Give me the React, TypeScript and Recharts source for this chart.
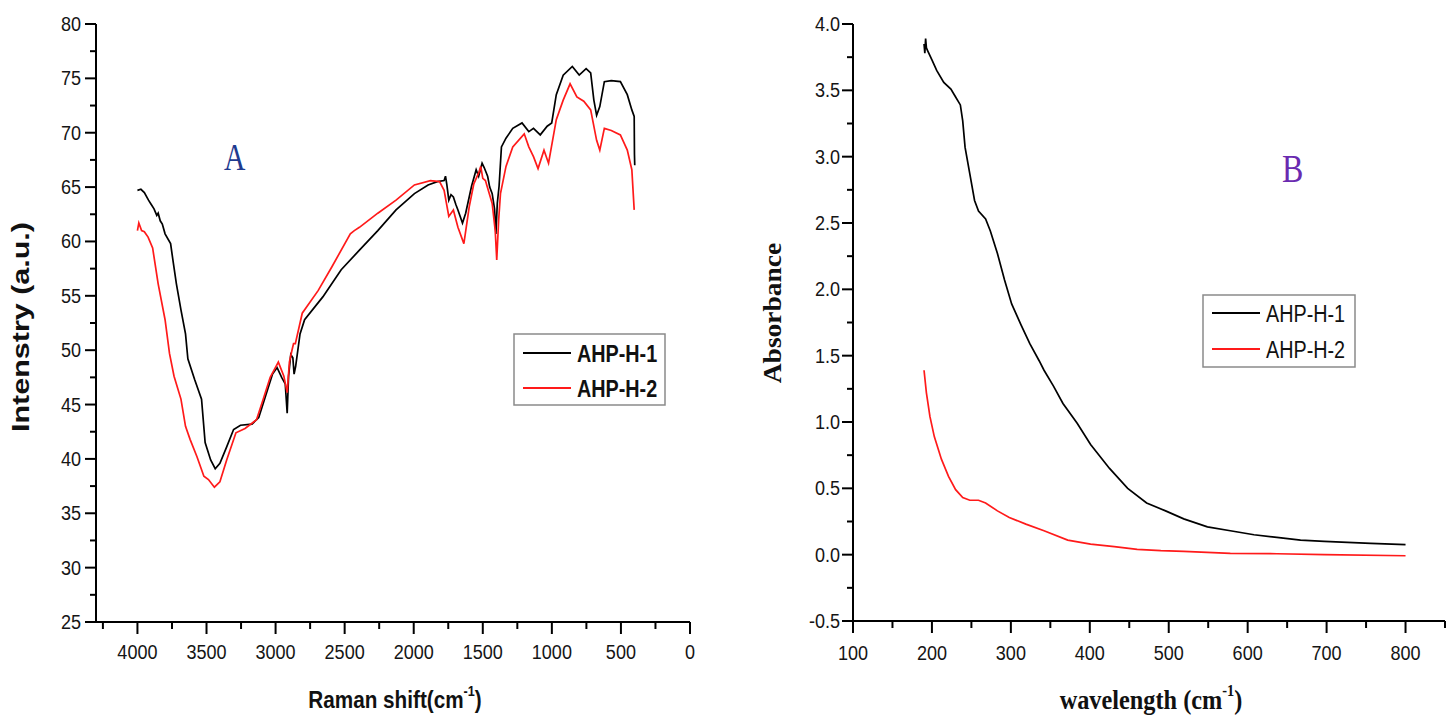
import React from 'react';
import { LineChart, Line, XAxis, YAxis } from 'recharts';

// ---------- Panel A data (Raman shift vs intensity) ----------
const ramanH1X = [4000, 3975, 3950, 3920, 3900, 3880, 3860, 3850, 3835, 3820, 3800, 3760, 3740, 3718, 3685, 3652, 3635, 3586, 3536, 3510, 3470, 3437, 3403, 3354, 3304, 3254, 3171, 3122, 3072, 3022, 2989, 2956, 2930, 2916, 2906, 2890, 2875, 2866, 2855, 2823, 2790, 2658, 2525, 2393, 2260, 2128, 1995, 1896, 1829, 1780, 1770, 1760, 1746, 1730, 1713, 1695, 1680, 1647, 1624, 1581, 1548, 1530, 1505, 1490, 1465, 1450, 1432, 1415, 1405, 1395, 1382, 1365, 1332, 1283, 1216, 1167, 1133, 1084, 1034, 1001, 968, 918, 852, 802, 752, 719, 696, 676, 653, 620, 570, 504, 454, 421, 404, 402, 400];
const ramanH1Y = [64.7, 64.8, 64.5, 63.8, 63.4, 63.0, 62.4, 62.6, 61.9, 61.6, 60.7, 59.8, 58.0, 56.1, 53.7, 51.5, 49.2, 47.3, 45.5, 41.5, 39.9, 39.1, 39.6, 41.1, 42.7, 43.1, 43.2, 43.8, 45.8, 47.8, 48.4, 47.5, 46.9, 44.2, 47.6, 49.6, 49.3, 47.8, 48.5, 51.5, 52.8, 54.9, 57.4, 59.2, 61.0, 62.9, 64.4, 65.2, 65.5, 65.6, 66.0, 65.2, 63.8, 64.3, 64.1, 63.4, 62.9, 61.7, 62.6, 65.1, 66.6, 66.0, 67.2, 66.8, 66.0, 65.0, 64.4, 63.0, 60.7, 63.5, 65.1, 68.7, 69.5, 70.4, 70.9, 70.1, 70.4, 69.8, 70.6, 70.9, 73.5, 75.3, 76.1, 75.3, 75.9, 75.5, 73.0, 71.6, 72.4, 74.7, 74.8, 74.7, 73.5, 72.1, 71.5, 68.0, 67.0];

const ramanH2X = [4000, 3990, 3970, 3950, 3923, 3890, 3850, 3800, 3768, 3735, 3685, 3652, 3619, 3569, 3519, 3486, 3443, 3403, 3354, 3287, 3221, 3138, 3089, 3039, 2980, 2940, 2916, 2900, 2883, 2870, 2857, 2807, 2691, 2591, 2459, 2430, 2393, 2260, 2128, 1995, 1879, 1813, 1780, 1746, 1713, 1680, 1637, 1598, 1565, 1530, 1515, 1500, 1481, 1432, 1410, 1399, 1385, 1372, 1332, 1283, 1200, 1167, 1133, 1100, 1057, 1024, 968, 918, 868, 819, 769, 719, 676, 653, 620, 570, 504, 454, 421, 404];
const ramanH2Y = [61.0, 61.7, 61.0, 60.9, 60.4, 59.4, 56.1, 52.8, 49.7, 47.6, 45.5, 43.0, 41.8, 40.2, 38.4, 38.1, 37.4, 37.9, 39.9, 42.4, 42.8, 43.6, 45.5, 47.5, 48.9, 47.6, 46.1, 48.9, 49.9, 50.6, 50.6, 53.4, 55.5, 57.7, 60.7, 61.0, 61.3, 62.6, 63.8, 65.2, 65.6, 65.5, 64.7, 62.3, 62.9, 61.3, 59.8, 63.2, 65.3, 66.3, 66.9, 65.8, 65.6, 63.5, 61.0, 58.3, 62.0, 64.4, 66.9, 68.7, 69.9, 68.7, 67.8, 66.7, 68.4, 67.2, 71.2, 73.0, 74.5, 73.3, 72.9, 72.1, 69.3, 68.4, 70.4, 70.2, 69.8, 68.4, 66.6, 62.9];

const ticksAX = [4250, 4000, 3750, 3500, 3250, 3000, 2750, 2500, 2250, 2000, 1750, 1500, 1250, 1000, 750, 500, 250, 0];
const ticksAY = [25, 27.5, 30, 32.5, 35, 37.5, 40, 42.5, 45, 47.5, 50, 52.5, 55, 57.5, 60, 62.5, 65, 67.5, 70, 72.5, 75, 77.5, 80];

// ---------- Panel B data (wavelength vs absorbance) ----------
const uvH1X = [190, 191, 192, 193, 194.5, 200, 206, 215, 224, 230, 236, 239, 242, 248, 254, 259, 268, 274, 283, 292, 301, 313, 324, 336, 342, 354, 366, 384, 401, 425, 448, 472, 496, 519, 549, 578, 608, 637, 667, 697, 756, 800];
const uvH1Y = [3.85, 3.78, 3.89, 3.82, 3.80, 3.73, 3.65, 3.56, 3.51, 3.45, 3.39, 3.27, 3.07, 2.87, 2.67, 2.59, 2.53, 2.44, 2.27, 2.07, 1.89, 1.73, 1.59, 1.46, 1.39, 1.27, 1.14, 0.99, 0.83, 0.65, 0.50, 0.39, 0.33, 0.27, 0.21, 0.18, 0.15, 0.13, 0.11, 0.10, 0.085, 0.075];

const uvH2X = [190, 193, 197.5, 203, 212, 221, 230, 239, 248, 259, 268, 283, 298, 319, 342, 372, 401, 431, 460, 490, 519, 578, 637, 697, 800];
const uvH2Y = [1.39, 1.22, 1.04, 0.89, 0.72, 0.59, 0.49, 0.43, 0.41, 0.41, 0.39, 0.33, 0.28, 0.23, 0.18, 0.11, 0.08, 0.06, 0.04, 0.03, 0.025, 0.01, 0.007, 0.0, -0.008];

const ticksBX = [100, 150, 200, 250, 300, 350, 400, 450, 500, 550, 600, 650, 700, 750, 800, 850];
const ticksBY = [-0.5, -0.25, 0, 0.25, 0.5, 0.75, 1, 1.25, 1.5, 1.75, 2, 2.25, 2.5, 2.75, 3, 3.25, 3.5, 3.75, 4];

const seriesNames = ['AHP-H-1', 'AHP-H-2'];
const seriesColors = ['#000000', '#ff1a1a'];

const zip = (xs: number[], ys: number[]) => xs.map((x, i) => ({ x, y: ys[i] }));

const dataA1 = zip(ramanH1X, ramanH1Y);
const dataA2 = zip(ramanH2X, ramanH2Y);
const dataB1 = zip(uvH1X, uvH1Y);
const dataB2 = zip(uvH2X, uvH2Y);

const SANS = '"Liberation Sans", Arial, sans-serif';
const SERIF = '"Liberation Serif", "Times New Roman", serif';

const makeXTick = (isMajor: (v: number) => boolean, fmt: (v: number) => string, labelDy: number) =>
  (props: any) => {
    const { x, y, payload } = props;
    const v = payload.value as number;
    const major = isMajor(v);
    return (
      <g>
        <line x1={x} x2={x} y1={y} y2={y + (major ? 12 : 7)} stroke="#000" strokeWidth={2} />
        {major && (
          <text transform={`translate(${x},${y + labelDy}) scale(0.86,1)`} textAnchor="middle" fontFamily={SANS} fontSize={21} fill="#151515">
            {fmt(v)}
          </text>
        )}
      </g>
    );
  };

const makeYTick = (isMajor: (v: number) => boolean, fmt: (v: number) => string, labelGap: number) =>
  (props: any) => {
    const { x, y, payload } = props;
    const v = payload.value as number;
    const major = isMajor(v);
    return (
      <g>
        <line x1={x - (major ? 11 : 6)} x2={x} y1={y} y2={y} stroke="#000" strokeWidth={2} />
        {major && (
          <text transform={`translate(${x - labelGap},${y + 7}) scale(0.86,1)`} textAnchor="end" fontFamily={SANS} fontSize={21} fill="#151515">
            {fmt(v)}
          </text>
        )}
      </g>
    );
  };

const near = (a: number, b: number) => Math.abs(a - b) < 1e-6;

const TickAX = makeXTick((v) => v % 500 === 0, (v) => String(v), 37);
const TickAY = makeYTick((v) => v % 5 === 0, (v) => String(v), 15);
const TickBX = makeXTick((v) => v % 100 === 0, (v) => String(v), 39);
const TickBY = makeYTick((v) => near(v * 2, Math.round(v * 2)), (v) => v.toFixed(1), 13);

const axisLine = { stroke: '#000', strokeWidth: 2 };

const LegendBox = ({ x, y, w, h, bold, rows }: { x: number; y: number; w: number; h: number; bold: boolean; rows: number[] }) => (
  <g>
    <rect x={x} y={y} width={w} height={h} fill="#fff" stroke="#8a8a8a" strokeWidth={1.5} />
    {seriesNames.map((name, i) => (
      <g key={name}>
        <line x1={x + 9} x2={x + 57} y1={rows[i]} y2={rows[i]} stroke={seriesColors[i]} strokeWidth={2.2} />
        <text transform={`translate(${x + 63},${rows[i] + 8.5}) scale(0.86,1)`} fontFamily={SANS} fontSize={23} fontWeight={bold ? 700 : 400} fill="#111">
          {name}
        </text>
      </g>
    ))}
  </g>
);

export default function App() {
  return (
    <div style={{ position: 'absolute', left: 0, top: 0, width: 1447, height: 715, background: '#fff', overflow: 'hidden' }}>
      <div style={{ position: 'absolute', left: 0, top: 0 }}>
        <LineChart width={720} height={715} margin={{ top: 24, right: 30, bottom: 33, left: 36 }}>
          <XAxis
            type="number"
            dataKey="x"
            domain={[0, 4300]}
            reversed
            ticks={ticksAX}
            interval={0}
            height={60}
            tickSize={0}
            tickMargin={0}
            axisLine={axisLine}
            tickLine={false}
            tick={TickAX}
            allowDataOverflow
          />
          <YAxis
            type="number"
            domain={[25, 80]}
            ticks={ticksAY}
            interval={0}
            width={60}
            tickSize={0}
            tickMargin={0}
            axisLine={axisLine}
            tickLine={false}
            tick={TickAY}
            allowDataOverflow
          />
          <Line data={dataA1} dataKey="y" name={seriesNames[0]} stroke={seriesColors[0]} strokeWidth={1.7} dot={false} isAnimationActive={false} type="linear" />
          <Line data={dataA2} dataKey="y" name={seriesNames[1]} stroke={seriesColors[1]} strokeWidth={1.7} dot={false} isAnimationActive={false} type="linear" />
        </LineChart>
      </div>
      <div style={{ position: 'absolute', left: 720, top: 0 }}>
        <LineChart width={727} height={715} margin={{ top: 24, right: 2, bottom: 34, left: 73 }}>
          <XAxis
            type="number"
            dataKey="x"
            domain={[100, 850]}
            ticks={ticksBX}
            interval={0}
            height={60}
            tickSize={0}
            tickMargin={0}
            axisLine={axisLine}
            tickLine={false}
            tick={TickBX}
            allowDataOverflow
          />
          <YAxis
            type="number"
            domain={[-0.5, 4]}
            ticks={ticksBY}
            interval={0}
            width={60}
            tickSize={0}
            tickMargin={0}
            axisLine={axisLine}
            tickLine={false}
            tick={TickBY}
            allowDataOverflow
          />
          <Line data={dataB1} dataKey="y" name={seriesNames[0]} stroke={seriesColors[0]} strokeWidth={1.7} dot={false} isAnimationActive={false} type="linear" />
          <Line data={dataB2} dataKey="y" name={seriesNames[1]} stroke={seriesColors[1]} strokeWidth={1.7} dot={false} isAnimationActive={false} type="linear" />
        </LineChart>
      </div>
      <svg width={1447} height={715} style={{ position: 'absolute', left: 0, top: 0, pointerEvents: 'none' }}>
        {/* Panel A texts */}
        <text transform="translate(29,327) rotate(-90) scale(1.27,1)" textAnchor="middle" fontFamily={SANS} fontWeight={700} fontSize={24} fill="#111">
          Intenstry (a.u.)
        </text>
        <text transform="translate(395,708) scale(0.9,1)" textAnchor="middle" fontFamily={SANS} fontWeight={700} fontSize={23} fill="#111">
          Raman shift(cm
          <tspan fontSize={14} dy={-12}>-1</tspan>
          <tspan dy={12}>)</tspan>
        </text>
        <text transform="translate(224,170) scale(0.8,1)" fontFamily={SERIF} fontSize={37} fill="#1f3b8f">A</text>
        <LegendBox x={514} y={334} w={151} h={71} bold rows={[353, 388]} />

        {/* Panel B texts */}
        <text transform="translate(781,313) rotate(-90) scale(1.1,1)" textAnchor="middle" fontFamily={SERIF} fontWeight={700} fontSize={25} fill="#111">
          Absorbance
        </text>
        <text transform="translate(1151,709) scale(0.9,1)" textAnchor="middle" fontFamily={SERIF} fontWeight={700} fontSize={27} fill="#111">
          wavelength (cm
          <tspan fontSize={16} dy={-13}>-1</tspan>
          <tspan dy={13}>)</tspan>
        </text>
        <text transform="translate(1282,182) scale(0.8,1)" fontFamily={SERIF} fontSize={40} fill="#6a2ab0">B</text>
        <LegendBox x={1203} y={295} w={152} h={72} bold={false} rows={[313, 349]} />
      </svg>
    </div>
  );
}
